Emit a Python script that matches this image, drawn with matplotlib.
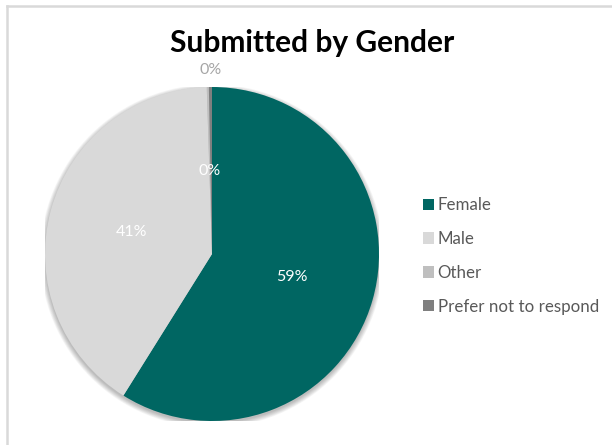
import numpy as np
import matplotlib.pyplot as plt
from matplotlib.patches import Circle, Patch

# Responses by gender (percent of submissions)
genders = ['Female', 'Male', 'Other', 'Prefer not to respond']
shares = [58.9, 40.6, 0.2, 0.3]
colours = ['#006662', '#d9d9d9', '#bfbfbf', '#7f7f7f']

plt.rcParams['font.family'] = ['Lato', 'DejaVu Sans']

W, H = 612, 445
fig = plt.figure(figsize=(W / 100, H / 100), dpi=100)

# light chart-area border (top and left edges visible)
fig.add_artist(plt.Line2D([7 / W, 7 / W], [0, 1 - 6 / H], transform=fig.transFigure,
                          color='#d9d9d9', lw=1.8))
fig.add_artist(plt.Line2D([7 / W, 1], [1 - 6 / H, 1 - 6 / H], transform=fig.transFigure,
                          color='#d9d9d9', lw=1.8))

# pie axes: centre (212, 254) px, radius 167 px
cx, cy, r = 212, 254, 167
ax = fig.add_axes([(cx - r) / W, (H - cy - r) / H, 2 * r / W, 2 * r / H])

# soft drop shadow under the pie
for k in range(8):
    ax.add_patch(Circle((0, -0.012), 1.0 + 0.004 * k, color='black',
                        alpha=0.035, lw=0, zorder=0))

wedges, _ = ax.pie(shares, colors=colours, startangle=90, counterclock=False,
                   radius=1.0, wedgeprops=dict(linewidth=0))
for w in wedges:
    w.set_zorder(2)

# percentage labels
theta = 90.0
for i, s in enumerate(shares):
    mid = np.deg2rad(theta - s * 360 / 200)
    theta -= s * 360 / 100
    txt = '{:.0f}%'.format(s)
    if genders[i] == 'Prefer not to respond':
        ax.text(1.1 * np.cos(mid), 1.1 * np.sin(mid), txt, ha='center', va='center',
                color='#a6a6a6', fontsize=11.5, zorder=5)
    else:
        ax.text(0.5 * np.cos(mid), 0.5 * np.sin(mid), txt, ha='center', va='center',
                color='white', fontsize=11.5, zorder=5)

ax.set_xlim(-1, 1)
ax.set_ylim(-1, 1)
ax.set_aspect('equal')
ax.axis('off')

fig.text(312 / W, 1 - 43 / H, 'Submitted by Gender', ha='center', va='center',
         fontsize=21.5, fontweight='bold', color='black')

handles = [Patch(facecolor=c, edgecolor='none') for c in colours]
leg = fig.legend(handles, genders, loc='center left', bbox_to_anchor=(408 / W, 1 - 256 / H),
                 frameon=False, fontsize=12.2, handlelength=0.65, handleheight=0.65,
                 handletextpad=0.2, labelspacing=1.05)
for t in leg.get_texts():
    t.set_color('#595959')

fig.savefig('out.png', dpi=100)
